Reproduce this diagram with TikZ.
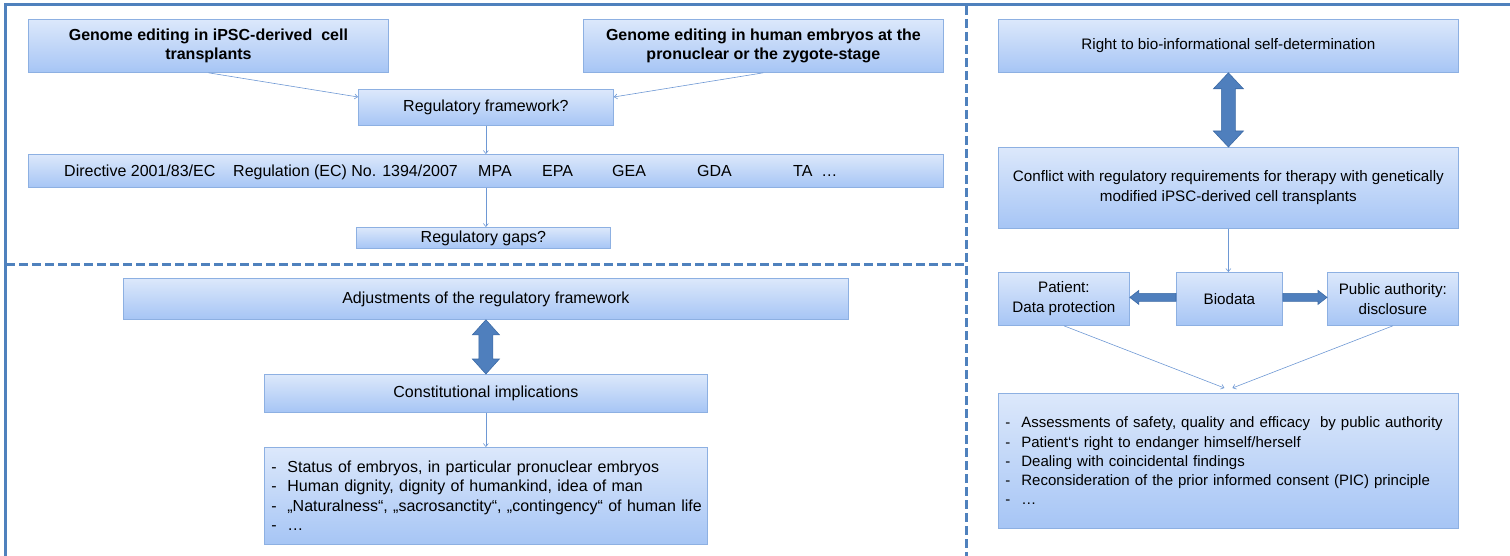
\documentclass[tikz,border=0pt]{standalone}
\usepackage{fontspec}
\setmainfont{Liberation Sans}
\usetikzlibrary{calc,arrows.meta}
\definecolor{boxtop}{HTML}{DCE8FB}
\definecolor{boxbot}{HTML}{A6C5F5}
\definecolor{boxline}{HTML}{8DB0E2}
\definecolor{frameblue}{HTML}{4F81BD}
\definecolor{fatfill}{HTML}{4F7FBD}
\definecolor{fatline}{HTML}{3C6AA5}
\definecolor{conn}{HTML}{6E98D4}
\tikzset{
  box/.style={draw=boxline, line width=0.8pt, top color=boxtop, bottom color=boxbot,
    anchor=north west, inner sep=0pt, align=center, font=\fontsize{16}{19.5}\selectfont},
  rbox/.style={box, font=\fontsize{15.2}{20}\selectfont},
  boldbox/.style={box, font=\fontsize{16}{19.5}\selectfont\bfseries},
  listbox/.style={box, align=left, inner xsep=7pt},
  rlistbox/.style={listbox, font=\fontsize{15}{19.3}\selectfont},
  rowtext/.style={anchor=base west, inner sep=0pt, font=\fontsize{16}{19.5}\selectfont},
  conline/.style={draw=conn, line width=0.6pt, -{Straight Barb[length=3pt,width=5pt]}},
  fatarrow/.style={fill=fatfill, draw=fatline, line width=0.6pt, line join=miter},
  frameline/.style={draw=frameblue, line width=3pt},
  framedash/.style={draw=frameblue, line width=3pt, dash pattern=on 9pt off 4pt},
}
\newcommand{\itm}{\makebox[16pt][l]{-}}
\begin{document}
\begin{tikzpicture}[x=1pt,y=-1pt]
\useasboundingbox (0,0) rectangle (1510,556);
% frame
\draw[frameline] (5,556) -- (5,4.5) -- (1510,4.5);
\draw[framedash] (966,6) -- (966,556);
\draw[framedash] (6,264) -- (964,264);

% upper left
\node[boldbox, minimum width=360pt, minimum height=53pt] (A) at (28,19)
  {Genome editing in iPSC-derived\ \ cell\\transplants};
\node[boldbox, minimum width=360pt, minimum height=53pt] (B) at (583,19)
  {Genome editing in human embryos at the\\pronuclear or the zygote-stage};
\node[box, minimum width=255pt, minimum height=36pt] (C) at (358,89) {Regulatory framework?};
\node[box, minimum width=915pt, minimum height=33pt] (D) at (28,154) {};
\node[rowtext] (d1) at (64,177) {Directive 2001/83/EC};
\node[rowtext] (d2) at (233,177) {Regulation (EC) No. 1394/2007};
\node[rowtext] (d3) at (478,177) {MPA};
\node[rowtext] (d4) at (542,177) {EPA};
\node[rowtext] (d5) at (612,177) {GEA};
\node[rowtext] (d6) at (697,177) {GDA};
\node[rowtext] (d7) at (793,177) {TA \ …};
\node[box, minimum width=254pt, minimum height=21pt] (E) at (356,227) {Regulatory gaps?};
\coordinate (cl) at ($(C.north west)+(0,8)$);
\coordinate (cr) at ($(C.north east)+(0,8)$);
\draw[conline] (A.south) -- (cl);
\draw[conline] (B.south) -- (cr);
\draw[conline] (C.south) -- (C.south |- D.north);
\draw[conline] (C.south |- D.south) -- (C.south |- E.north);

% lower left
\node[box, minimum width=725pt, minimum height=41pt] (F) at (123,278)
  {Adjustments of the regulatory framework};
\node[box, minimum width=443pt, minimum height=38pt] (G) at (264,374)
  {Constitutional implications};
\node[listbox, text width=429pt, minimum height=97pt] (H) at (264,447)
  {\itm Status of embryos, in particular pronuclear embryos\\
   \itm Human dignity, dignity of humankind, idea of man\\
   \itm \mbox{„Naturalness“, „sacrosanctity“, „contingency“ of human life}\\
   \itm …};
\draw[fatarrow] (F.south) -- ($(F.south)+(13.5,15)$) -- ($(F.south)+(7,15)$)
  -- ($(G.north)+(7,-15)$) -- ($(G.north)+(13.5,-15)$) -- (G.north)
  -- ($(G.north)+(-13.5,-15)$) -- ($(G.north)+(-7,-15)$)
  -- ($(F.south)+(-7,15)$) -- ($(F.south)+(-13.5,15)$) -- cycle;
\draw[conline] (G.south) -- (H.north);

% right
\node[rbox, minimum width=460pt, minimum height=53pt] (I) at (998,19)
  {Right to bio-informational self-determination};
\node[rbox, minimum width=460pt, minimum height=81pt] (J) at (998,147)
  {Conflict with regulatory requirements for therapy with genetically\\modified iPSC-derived cell transplants};
\draw[fatarrow] (I.south) -- ($(I.south)+(15,16)$) -- ($(I.south)+(7,16)$)
  -- ($(J.north)+(7,-16)$) -- ($(J.north)+(15,-16)$) -- (J.north)
  -- ($(J.north)+(-15,-16)$) -- ($(J.north)+(-7,-16)$)
  -- ($(I.south)+(-7,16)$) -- ($(I.south)+(-15,16)$) -- cycle;
\node[rbox, minimum width=131pt, minimum height=53pt] (K) at (998,272)
  {Patient:\\Data protection};
\node[rbox, minimum width=106pt, minimum height=53pt] (L) at (1176,272) {Biodata};
\node[rbox, minimum width=131pt, minimum height=53pt] (M) at (1327,272)
  {Public authority:\\disclosure};
\draw[conline] (J.south) -- (J.south |- L.north);
\coordinate (la) at ($(L.west)+(0,-1.5)$);
\coordinate (ra) at ($(L.east)+(0,-1.5)$);
\draw[fatarrow] (la) -- ($(la)+(0,-4)$) -- ($(la -| K.east)+(9,-4)$) -- ($(la -| K.east)+(9,-7)$)
  -- (la -| K.east) -- ($(la -| K.east)+(9,7)$) -- ($(la -| K.east)+(9,4)$) -- ($(la)+(0,4)$) -- cycle;
\draw[fatarrow] (ra) -- ($(ra)+(0,-4)$) -- ($(ra -| M.west)+(-9,-4)$) -- ($(ra -| M.west)+(-9,-7)$)
  -- (ra -| M.west) -- ($(ra -| M.west)+(-9,7)$) -- ($(ra -| M.west)+(-9,4)$) -- ($(ra)+(0,4)$) -- cycle;
\node[rlistbox, text width=446pt, minimum height=135pt] (N) at (998,393)
  {\itm \mbox{Assessments of safety, quality and efficacy\ \ by public authority}\\
   \itm Patient‘s right to endanger himself/herself\\
   \itm Dealing with coincidental findings\\
   \itm \mbox{Reconsideration of the prior informed consent (PIC) principle}\\
   \itm …};
\coordinate (nl) at ($(N.north)+(-4,-5)$);
\coordinate (nr) at ($(N.north)+(4,-5)$);
\draw[conline] (K.south) -- (nl);
\draw[conline] (M.south) -- (nr);
\end{tikzpicture}
\end{document}
